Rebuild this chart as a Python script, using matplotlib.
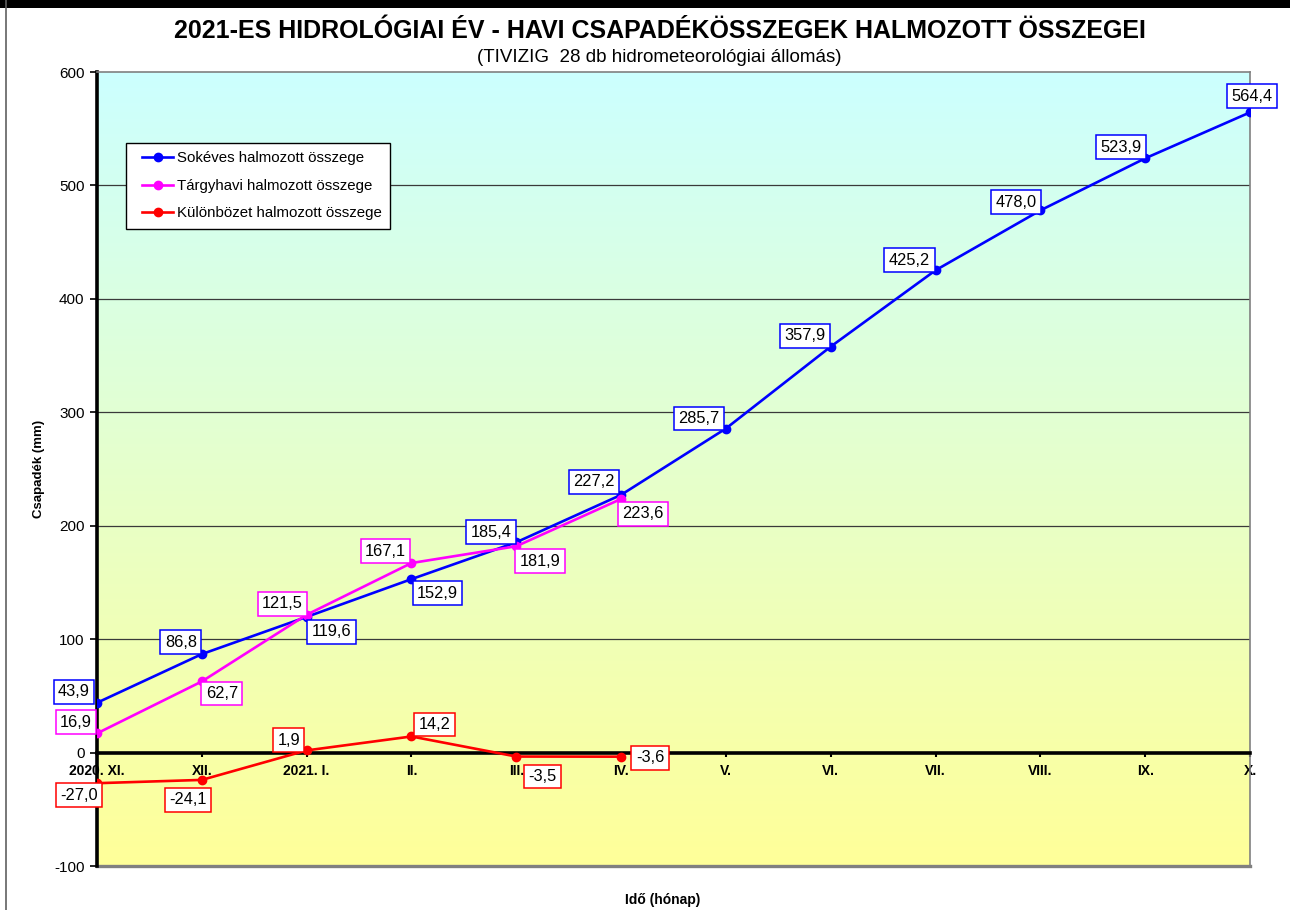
import matplotlib
matplotlib.use("Agg")
import matplotlib.pyplot as plt
import numpy as np
from matplotlib.colors import LinearSegmentedColormap
from matplotlib.lines import Line2D
from matplotlib.patches import Rectangle
from matplotlib.legend_handler import HandlerLine2D

plt.rcParams['font.family'] = ['Liberation Sans', 'DejaVu Sans']

# ---- data ----
months = ["2020. XI.", "XII.", "2021. I.", "II.", "III.", "IV.", "V.", "VI.",
          "VII.", "VIII.", "IX.", "X."]
sokeves = [43.9, 86.8, 119.6, 152.9, 185.4, 227.2, 285.7, 357.9, 425.2, 478.0, 523.9, 564.4]
targyhavi = [16.9, 62.7, 121.5, 167.1, 181.9, 223.6]
kulonbozet = [-27.0, -24.1, 1.9, 14.2, -3.5, -3.6]
yticks = [-100, 0, 100, 200, 300, 400, 500, 600]

title = "2021-ES HIDROLÓGIAI ÉV - HAVI CSAPADÉKÖSSZEGEK HALMOZOTT ÖSSZEGEI"
subtitle = "(TIVIZIG  28 db hidrometeorológiai állomás)"

# label offsets (pixels: dx right, dy up) of label box centre from its point
off_sok = [(-23, 11), (-21, 12), (25, -15), (26, -14), (-25, 10), (-27, 13),
           (-27, 10), (-26, 11), (-26, 10), (-24, 8), (-24, 11), (2, 16)]
off_targy = [(-21, 11), (20, -12), (-24, 11), (-26, 12), (24, -15), (22, -15)]
off_kul = [(-18, -12), (-14, -20), (-18, 10), (23, 12), (26, -20), (29, -1)]

W, H = 1290, 910
fig = plt.figure(figsize=(W / 100, H / 100), dpi=100)
ax = fig.add_axes([97 / W, 1 - 866 / H, (1250 - 97) / W, (866 - 72) / H])

# gradient background
cmap = LinearSegmentedColormap.from_list("bg", ["#ffff99", "#ccffff"])
grad = np.linspace(0, 1, 256).reshape(-1, 1)
ax.imshow(grad, aspect='auto', cmap=cmap, origin='lower',
          extent=[0, 11, -100, 600], zorder=0)

x = np.arange(len(months))
for yv in [100, 200, 300, 400, 500]:
    ax.axhline(yv, color='#3a3a3a', lw=0.9, zorder=1)

col_b, col_m, col_r = '#0000ff', '#ff00ff', '#ff0000'
ax.plot(x[:len(sokeves)], sokeves, color=col_b, lw=1.9, marker='o', ms=6,
        label='Sokéves halmozott összege', zorder=4)
ax.plot(x[:len(targyhavi)], targyhavi, color=col_m, lw=1.9, marker='o', ms=6,
        label='Tárgyhavi halmozott összege', zorder=4)
ax.plot(x[:len(kulonbozet)], kulonbozet, color=col_r, lw=1.9, marker='o', ms=6,
        label='Különbözet halmozott összege', zorder=4)


def fmt(v):
    return f"{v:.1f}".replace('.', ',')


for vals, offs, c in [(sokeves, off_sok, col_b), (targyhavi, off_targy, col_m),
                      (kulonbozet, off_kul, col_r)]:
    for i, (v, (dx, dy)) in enumerate(zip(vals, offs)):
        ax.annotate(fmt(v), (x[i], v), xytext=(dx, dy), textcoords='offset pixels',
                    ha='center', va='center', fontsize=11.8, zorder=6,
                    bbox=dict(boxstyle='square,pad=0.27', fc='white', ec=c, lw=1.1))

ax.set_xlim(0, 11)
ax.set_ylim(-100, 600)
ax.set_yticks(yticks)
ax.set_yticklabels([str(v) for v in yticks], fontsize=11)
ax.set_xticks(x)
ax.set_xticklabels(months, fontsize=10.5)

ax.spines['bottom'].set_position(('data', 0))
ax.spines['bottom'].set_linewidth(2.6)
ax.spines['bottom'].set_color('black')
ax.spines['bottom'].set_zorder(3)
ax.spines['left'].set_linewidth(2.6)
ax.spines['left'].set_color('black')
ax.spines['top'].set_color('#808080')
ax.spines['right'].set_color('#808080')
ax.spines['top'].set_linewidth(1.2)
ax.spines['right'].set_linewidth(1.2)
ax.tick_params(axis='y', direction='out', length=5, width=1.2, pad=4)
ax.tick_params(axis='x', direction='out', length=3, width=1.5, pad=5)
for lbl in ax.get_xticklabels():
    lbl.set_fontweight('bold')
# bottom border of plot area
ax.plot([0, 1], [0, 0], transform=ax.transAxes, color='#808080', lw=2.4,
        clip_on=False, zorder=2)

fig.text(39 / W, 1 - 469 / H, 'Csapadék (mm)', ha='center', va='center',
         rotation=90, fontsize=9.5, fontweight='bold')
fig.text(663 / W, 1 - 900 / H, 'Idő (hónap)', ha='center', va='center',
         fontsize=10, fontweight='bold')

fig.text(660 / W, 1 - 31 / H, title, ha='center', va='center', fontsize=18,
         fontweight='bold')
fig.text(659 / W, 1 - 57 / H, subtitle, ha='center', va='center', fontsize=13.5)

leg = ax.legend(loc='upper left',
                bbox_to_anchor=((126 - 97) / (1250 - 97), (866 - 143) / (866 - 72)),
                borderaxespad=0, fontsize=10.8, frameon=True, fancybox=False,
                edgecolor='black', framealpha=1, borderpad=0.55, labelspacing=0.9,
                handlelength=2.6, handletextpad=0.25, markerscale=1.0,
                handler_map={Line2D: HandlerLine2D(xpad=0.5)})
leg.get_frame().set_linewidth(1.0)
leg.set_zorder(7)

# figure frame
fig.add_artist(Rectangle((0, 1 - 8 / H), 1, 8 / H, transform=fig.transFigure,
                         color='black', lw=0))
fig.add_artist(Line2D([6 / W, 6 / W], [0, 1], transform=fig.transFigure,
                      color='#606060', lw=1.2))

fig.savefig('out.png', dpi=100)
